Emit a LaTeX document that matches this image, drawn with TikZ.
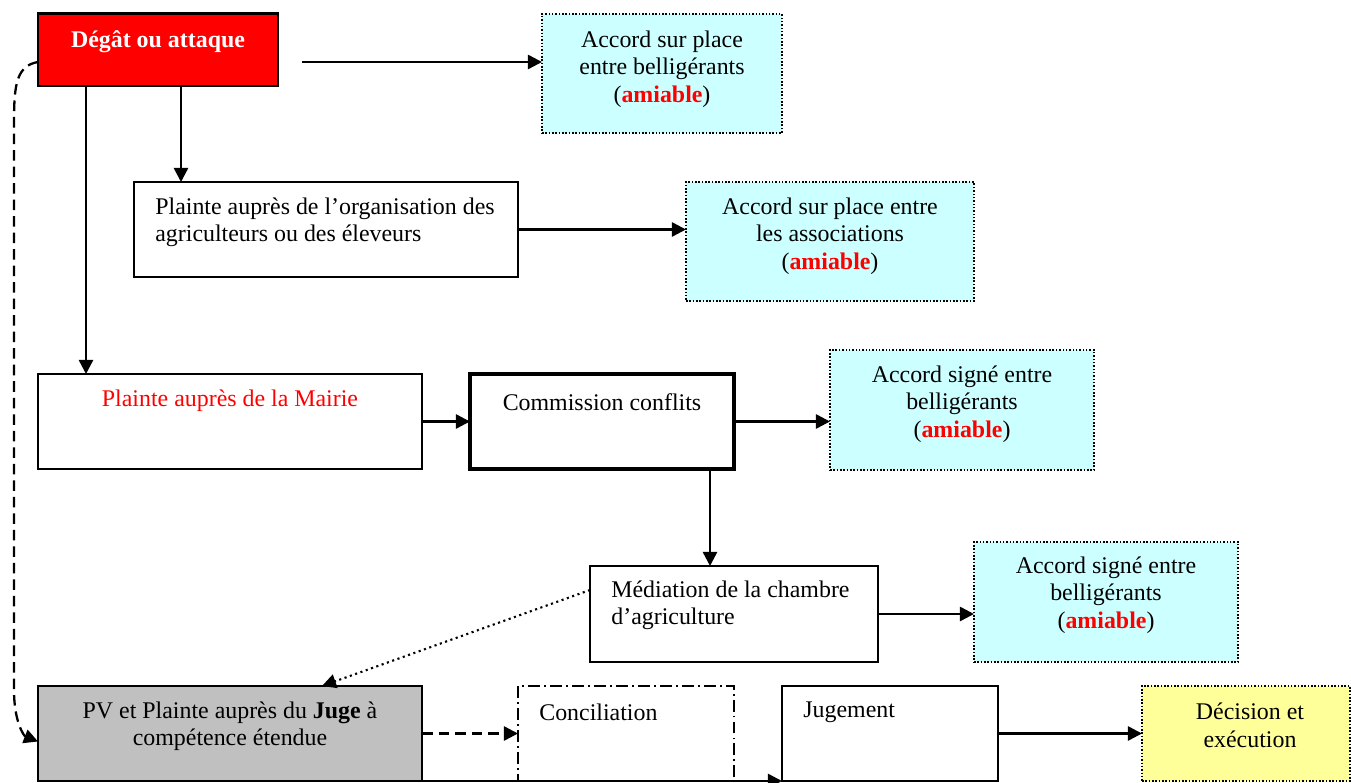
\documentclass[tikz,border=0pt]{standalone}
\usepackage{fontspec}
\setmainfont{Liberation Serif}
\usepackage{xcolor}
\usepackage{tikz}
\usetikzlibrary{arrows.meta}
\usetikzlibrary{positioning, calc}
\definecolor{attackred}{HTML}{FF0000}
\definecolor{accordcyan}{HTML}{CCFFFF}
\definecolor{decisionyellow}{HTML}{FFFF99}
\definecolor{judgegray}{HTML}{C0C0C0}
\newcommand{\amiable}{(\textcolor{attackred}{\textbf{amiable}})}
\tikzset{
size/.style 2 args = { minimum width = #1*0.02cm, minimum height = #2*0.02cm },
box/.style = { rectangle, draw = black, fill = white, line width = 0.9pt, inner sep = 0pt, outer sep = 0pt, anchor = north west },
heavy box/.style = { box, line width = 2pt },
accord box/.style = { box, fill = accordcyan, densely dotted },
decision box/.style = { box, fill = decisionyellow, densely dotted },
dashdot box/.style = { box, dash pattern = on 6.8pt off 2.3pt on 1.1pt off 2.3pt },
txt/.style = { inner sep = 0pt, align = center, font = \fontsize{13.6}{15.6}\selectfont },
ltxt/.style = { txt, anchor = west, align = left },
}
\begin{document}
\begin{tikzpicture}[x=0.02cm, y=-0.02cm]
    \clip (0,0) rectangle (1351,783);
    % boxes
    \node[heavy box, size={240}{72}, fill = attackred, line width = 1.7pt] (dgt) at (38,14) {};
    \node[accord box, size={240}{119}] (acc1) at (542,14) {};
    \node[box, size={384}{95}] (org) at (134,182) {};
    \node[accord box, size={288}{119}] (acc2) at (686,182) {};
    \node[box, size={384}{95}] (mairie) at (38,374) {};
    \node[heavy box, size={264}{95}] (comm) at (470,374) {};
    \node[accord box, size={264}{120}] (acc3) at (830,350) {};
    \node[box, size={288}{96}] (med) at (590,566) {};
    \node[accord box, size={264}{120}] (acc4) at (974,542) {};
    \node[box, size={384}{95}, fill = judgegray] (pv) at (38,686) {};
    \node[dashdot box, size={216}{95}] (conc) at (518,686) {};
    \node[box, size={216}{95}] (jug) at (782,686) {};
    \node[decision box, size={208}{95}] (dec) at (1142,686) {};
    % texts
    \node[txt, text = white, font = \fontsize{13.6}{15.6}\selectfont\bfseries] (dgt-t) at (158,42) {Dégât ou attaque};
    \node[txt] (acc1-t) at (662,69) {Accord sur place\\entre belligérants\\\amiable};
    \node[ltxt] (org-t) at (155,222.5) {Plainte auprès de l’organisation des\\agriculteurs ou des éleveurs};
    \node[txt] (acc2-t) at (830,236) {Accord sur place entre\\les associations\\\amiable};
    \node[txt, text = attackred] (mairie-t) at (230,401) {Plainte auprès de la Mairie};
    \node[txt] (comm-t) at (602,402) {Commission conflits};
    \node[txt] (acc3-t) at (962,404) {Accord signé entre\\belligérants\\\amiable};
    \node[ltxt] (med-t) at (611,605) {Médiation de la chambre\\d’agriculture};
    \node[txt] (acc4-t) at (1106,595) {Accord signé entre\\belligérants\\\amiable};
    \node[txt] (pv-t) at (230,726) {PV et Plainte auprès du \textbf{Juge} à\\compétence étendue};
    \node[ltxt] (conc-t) at (539,712) {Conciliation};
    \node[ltxt] (jug-t) at (803,712) {Jugement};
    \node[txt] (dec-t) at (1250,725.5) {Décision et\\exécution};
    \coordinate (dgt-out) at (302,62);
    \coordinate (dgt-d1) at ($(dgt.south west)+(143,0)$);
    \coordinate (dgt-d2) at ($(dgt.south west)+(48,0)$);
    \coordinate (comm-d) at ($(comm.south west)+(240,0)$);
    \begin{scope}[>={Triangle[length=8pt, width=8pt]},
                  every edge/.style={draw=black, line width=1.4pt}]
      \path [->] (dgt-out) edge (dgt-out -| acc1.west);
      \path [->] (dgt-d1) edge (dgt-d1 |- org.north);
      \path [->] (dgt-d2) edge (dgt-d2 |- mairie.north);
      \path [->] (org.east) edge (org.east -| acc2.west);
      \path [->] (mairie.east) edge (comm.west);
      \path [->] (comm.east) edge (comm.east -| acc3.west);
      \path [->] (comm-d) edge (comm-d |- med.north);
      \path [->] (med.east) edge (med.east -| acc4.west);
      \path [->] (pv.east) edge [dash pattern = on 6pt off 3.4pt] (conc.west);
      \path [->] (jug.east) edge (dec.west);
      \path [->] (pv.south east) edge (jug.south west);
    \end{scope}
    \begin{scope}[>={Triangle[length=8pt, width=8pt]}]
      \draw [->, line width = 1.3pt, dash pattern = on 6pt off 3.4pt]
        ($(dgt.west)+(0,12)$) .. controls (14,66) and (14,90) .. (14,130)
        -- (14,690) .. controls (14,722) and (24,736) .. ($(pv.west)+(0,8)$);
      \draw [->, line width = 1.2pt, dotted] ($(med.west)+(0,-24)$) -- ($(pv.north)+(92,0)$);
    \end{scope}
\end{tikzpicture}
\end{document}
